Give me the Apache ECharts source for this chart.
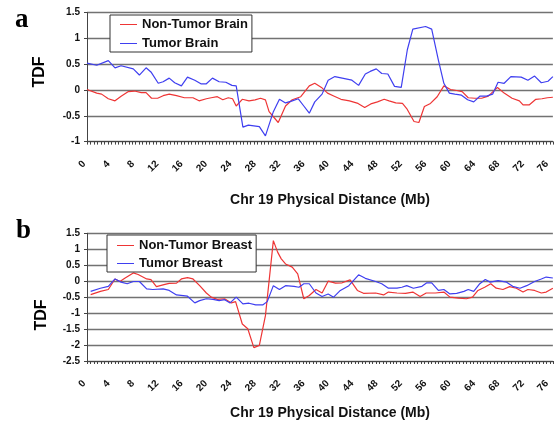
<!DOCTYPE html>
<html>
<head>
<meta charset="utf-8">
<script src="https://cdn.jsdelivr.net/npm/echarts@6.0.0/dist/echarts.min.js"></script>
<style>
html,body{margin:0;padding:0;background:#fff;}
#chart{width:555px;height:429px;}
</style>
</head>
<body>
<div id="chart"></div>
<script>
// ---- Data (x in Mb, y = TDF) ----
const aRedX = [0,1.6,2.4,3.5,4.6,5.6,6.8,7.8,8.9,9.7,10.6,11.6,12.5,13.5,14.7,16.0,17.4,18.4,19.6,20.4,21.4,22.3,23.2,23.9,24.5,25.5,26.6,27.6,28.5,29.3,29.9,31.4,32.6,33.7,35.1,36.5,37.4,38.5,39.5,40.6,41.7,43.1,44.5,45.6,46.6,47.7,48.8,49.6,50.7,51.8,52.5,53.7,54.5,55.4,56.4,57.5,58.6,59.7,60.7,61.6,62.6,63.7,64.8,65.9,67.4,68.5,69.8,71.0,71.6,72.6,73.7,74.7,75.6,76.5];
const aRedY = [0.01,-0.06,-0.08,-0.17,-0.21,-0.12,-0.03,-0.02,-0.05,-0.05,-0.16,-0.16,-0.11,-0.08,-0.11,-0.15,-0.15,-0.21,-0.17,-0.15,-0.13,-0.19,-0.15,-0.17,-0.31,-0.18,-0.21,-0.19,-0.16,-0.19,-0.42,-0.63,-0.31,-0.19,-0.13,0.08,0.13,0.05,-0.06,-0.12,-0.18,-0.21,-0.26,-0.34,-0.27,-0.23,-0.18,-0.21,-0.25,-0.26,-0.36,-0.61,-0.63,-0.32,-0.26,-0.13,0.08,0.01,-0.01,-0.03,-0.15,-0.16,-0.16,-0.12,0.05,-0.06,-0.16,-0.21,-0.29,-0.29,-0.18,-0.17,-0.15,-0.14];

const aBlueX = [0,1.6,3.5,4.6,5.6,7.6,8.6,9.7,10.5,11.7,12.5,13.5,14.4,15.5,16.5,17.7,18.7,19.6,20.6,21.7,22.8,23.8,24.5,25.6,26.5,28.3,29.3,30.6,31.6,32.6,33.7,34.7,35.6,36.5,37.4,38.6,39.6,40.7,41.9,43.5,44.6,45.7,46.5,47.5,48.4,49.4,50.5,51.6,52.6,53.5,55.6,56.6,57.7,58.6,59.5,60.4,61.5,62.5,63.5,64.5,65.6,66.6,67.5,68.5,69.6,71.3,72.4,73.5,74.6,75.7,76.5];
const aBlueY = [0.52,0.48,0.57,0.43,0.47,0.41,0.29,0.43,0.35,0.13,0.16,0.23,0.14,0.08,0.25,0.19,0.12,0.12,0.23,0.16,0.15,0.09,0.08,-0.72,-0.68,-0.71,-0.89,-0.42,-0.18,-0.25,-0.21,-0.17,-0.31,-0.45,-0.23,-0.08,0.19,0.26,0.23,0.19,0.09,0.31,0.36,0.41,0.32,0.31,0.07,0.05,0.78,1.18,1.23,1.18,0.58,0.13,-0.06,-0.08,-0.10,-0.19,-0.23,-0.12,-0.12,-0.08,0.15,0.13,0.26,0.25,0.19,0.27,0.14,0.17,0.26];

const bRedX = [0.6,2.2,3.5,4.6,5.4,6.2,7.6,8.4,9.8,10.5,11.4,12.8,13.5,14.7,15.5,16.5,17.4,18.5,19.6,20.4,21.4,22.6,23.7,24.4,25.5,26.4,27.4,28.3,29.3,30.6,31.3,31.9,32.6,33.7,34.6,35.6,36.5,37.6,38.6,39.6,40.8,41.9,43.2,44.4,45.4,47.4,48.7,49.5,50.9,52.3,53.5,54.7,55.7,57.2,58.6,59.6,61.0,62.3,63.3,64.2,65.3,66.3,67.2,68.3,69.4,70.5,71.6,72.4,73.5,74.6,75.4,76.5];
const bRedY = [-0.42,-0.32,-0.26,0.07,-0.01,0.09,0.26,0.21,0.07,0.05,-0.17,-0.10,-0.07,-0.06,0.07,0.11,0.07,-0.14,-0.37,-0.50,-0.57,-0.55,-0.68,-0.64,-1.34,-1.49,-2.08,-2.01,-1.08,1.27,0.91,0.70,0.54,0.44,0.23,-0.55,-0.45,-0.26,-0.37,0.0,-0.06,-0.05,0.04,-0.29,-0.38,-0.37,-0.43,-0.34,-0.37,-0.38,-0.34,-0.48,-0.37,-0.37,-0.34,-0.50,-0.53,-0.55,-0.50,-0.29,-0.19,-0.08,-0.22,-0.26,-0.17,-0.22,-0.34,-0.26,-0.29,-0.37,-0.34,-0.22];

const bBlueX = [0.6,2.2,3.5,4.6,5.6,6.6,7.6,8.6,9.8,10.8,12.5,13.5,14.7,15.8,16.5,17.7,18.5,19.6,20.7,21.7,22.6,23.5,24.5,25.6,26.6,27.7,28.9,29.6,30.6,31.6,32.6,34.0,34.8,35.6,36.5,37.6,38.6,39.6,40.5,41.6,43.0,44.6,45.7,47.4,48.4,49.5,50.9,51.7,52.5,53.6,55.0,55.8,56.6,57.7,58.6,59.6,60.7,61.9,62.6,63.5,64.5,65.4,66.2,67.5,68.9,69.9,71.1,72.2,73.5,74.6,75.4,76.5];
const bBlueY = [-0.32,-0.22,-0.16,0.07,-0.03,-0.08,-0.01,-0.01,-0.24,-0.26,-0.24,-0.29,-0.43,-0.45,-0.47,-0.68,-0.61,-0.55,-0.57,-0.61,-0.58,-0.68,-0.50,-0.71,-0.69,-0.74,-0.74,-0.64,-0.14,-0.26,-0.14,-0.16,-0.19,-0.08,-0.08,-0.37,-0.48,-0.40,-0.50,-0.29,-0.14,0.20,0.09,-0.01,-0.08,-0.22,-0.22,-0.19,-0.14,-0.22,-0.16,-0.05,-0.05,-0.29,-0.26,-0.40,-0.38,-0.32,-0.26,-0.32,-0.08,0.05,-0.03,0.02,-0.03,-0.16,-0.22,-0.14,-0.01,0.07,0.13,0.10];

const seriesNamesA = ['Non-Tumor Brain', 'Tumor Brain'];
const seriesNamesB = ['Non-Tumor Breast', 'Tumor Breast'];
const xTitle = 'Chr 19 Physical Distance (Mb)';
const yTitle = 'TDF';
const panelLetters = ['a', 'b'];

// ---- Build ----
function zip(xs, ys) {
  const n = Math.min(xs.length, ys.length);
  const out = [];
  for (let i = 0; i < n; i++) out.push([xs[i], ys[i]]);
  return out;
}

const FONT = '"Liberation Sans", Arial, Helvetica, sans-serif';
const RED = '#ee3535';
const BLUE = '#3f3ff0';
// plain line legend icon (tiny corner dots keep the bounding box at 17x12)
const LINE_ICON = 'path://M0,0H0.01V0.01H0Z M0,5.4H17V6.6H0Z M16.99,11.99H17V12H16.99Z';

function xAxisCfg(gridIndex) {
  return {
    type: 'value', gridIndex: gridIndex, min: 0, max: 76.5, interval: 4,
    axisLine: { show: true, onZero: false, lineStyle: { color: '#444', width: 1 } },
    axisTick: { show: true, length: 3, inside: false, lineStyle: { color: '#444' } },
    minorTick: { show: true, splitNumber: 7, length: 3, lineStyle: { color: '#444' } },
    splitLine: { show: false },
    axisLabel: {
      rotate: 45, interval: 0, margin: 18, fontSize: 10, fontWeight: 'bold',
      fontFamily: FONT, color: '#111', padding: [0, 4, 0, 0],
      formatter: v => (v % 4 === 0 ? String(v) : '')
    }
  };
}
function yAxisCfg(gridIndex, min, max) {
  return {
    type: 'value', gridIndex: gridIndex, min: min, max: max, interval: 0.5,
    axisLine: { show: true, lineStyle: { color: '#444', width: 1 } },
    axisTick: { show: true, length: 3, lineStyle: { color: '#444' } },
    splitLine: { show: true, lineStyle: { color: '#727272', width: 1.3 } },
    axisLabel: { margin: 7, fontSize: 10, fontWeight: 'bold', fontFamily: FONT, color: '#111' }
  };
}
function legendCfg(names, colors, left, top, gap, pad) {
  return {
    data: names.map((n, i) => ({ name: n, icon: LINE_ICON, itemStyle: { color: colors[i] } })),
    orient: 'vertical', left: left, top: top,
    padding: pad, itemGap: gap, itemWidth: 17, itemHeight: 12,
    backgroundColor: '#fff', borderColor: '#333', borderWidth: 1,
    textStyle: { fontSize: 13, fontWeight: 'bold', fontFamily: FONT, color: '#111' }
  };
}
function lineSeries(name, data, color, xi, yi) {
  return {
    name: name, type: 'line', xAxisIndex: xi, yAxisIndex: yi, data: data,
    symbol: 'none', showSymbol: false, smooth: false,
    lineStyle: { color: color, width: 1.2 }, itemStyle: { color: color }
  };
}

const option = {
  animation: false,
  backgroundColor: '#fff',
  grid: [
    { left: 87, top: 12.6, width: 468, height: 129 },
    { left: 87, top: 233.3, width: 468, height: 127.7 }
  ],
  xAxis: [xAxisCfg(0), xAxisCfg(1)],
  yAxis: [yAxisCfg(0, -1, 1.5), yAxisCfg(1, -2.5, 1.5)],
  legend: [
    legendCfg(seriesNamesA, [RED, BLUE], 110, 15, 6, [3, 4, 2, 10]),
    legendCfg(seriesNamesB, [RED, BLUE], 107, 235, 5, [4, 4, 2, 10])
  ],
  series: [
    lineSeries(seriesNamesA[0], zip(aRedX, aRedY), RED, 0, 0),
    lineSeries(seriesNamesA[1], zip(aBlueX, aBlueY), BLUE, 0, 0),
    lineSeries(seriesNamesB[0], zip(bRedX, bRedY), RED, 1, 1),
    lineSeries(seriesNamesB[1], zip(bBlueX, bBlueY), BLUE, 1, 1)
  ],
  graphic: [
    { type: 'text', x: 15, y: 20, style: { text: panelLetters[0], font: 'bold 27px "Liberation Serif", "Times New Roman", serif', fill: '#000', textAlign: 'left', textVerticalAlign: 'middle' } },
    { type: 'text', x: 16, y: 231, style: { text: panelLetters[1], font: 'bold 27px "Liberation Serif", "Times New Roman", serif', fill: '#000', textAlign: 'left', textVerticalAlign: 'middle' } },
    { type: 'text', x: 40, y: 72, rotation: Math.PI / 2, style: { text: yTitle, font: 'bold 16px ' + FONT, fill: '#000', textAlign: 'center', textVerticalAlign: 'middle' } },
    { type: 'text', x: 42, y: 315, rotation: Math.PI / 2, style: { text: yTitle, font: 'bold 16px ' + FONT, fill: '#000', textAlign: 'center', textVerticalAlign: 'middle' } },
    { type: 'text', x: 330, y: 200, style: { text: xTitle, font: 'bold 14px ' + FONT, fill: '#111', textAlign: 'center', textVerticalAlign: 'middle' } },
    { type: 'text', x: 330, y: 413, style: { text: xTitle, font: 'bold 14px ' + FONT, fill: '#111', textAlign: 'center', textVerticalAlign: 'middle' } }
  ]
};

const chart = echarts.init(document.getElementById('chart'), null, { renderer: 'canvas' });
chart.setOption(option);
</script>
</body>
</html>
